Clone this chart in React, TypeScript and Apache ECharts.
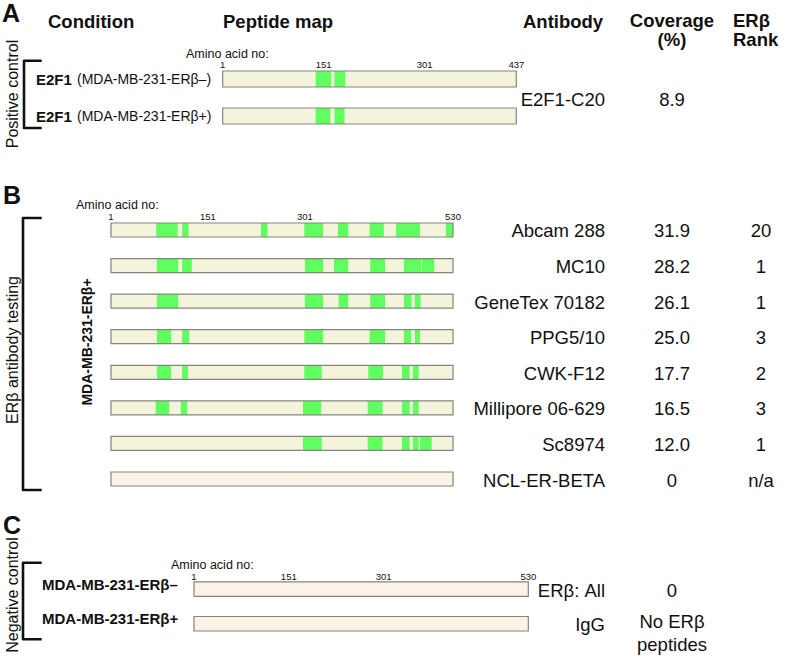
import React, { useEffect, useRef } from 'react';
import * as echarts from 'echarts';

const FONT = '"Liberation Sans", Arial, Helvetica, sans-serif';

// ---------- Panel A: positive control (E2F1, 437 aa) ----------
const lengthA = 437;
const ticksA = [1, 151, 301, 437];
const conditionsA = ['E2F1', 'E2F1'];
const cellLinesA = ['(MDA-MB-231-ERβ–)', '(MDA-MB-231-ERβ+)'];
const segmentsA: number[][][] = [
  [[139, 162], [167, 183]],
  [[139, 161], [167, 182]],
];
const antibodyA = 'E2F1-C20';
const coverageA = '8.9';

// ---------- Panel B: ERβ antibody testing (530 aa) ----------
const lengthB = 530;
const ticksB = [1, 151, 301, 530];
const conditionB = 'MDA-MB-231-ERβ+';
const antibodiesB = ['Abcam 288', 'MC10', 'GeneTex 70182', 'PPG5/10', 'CWK-F12', 'Millipore 06-629', 'Sc8974', 'NCL-ER-BETA'];
const coverageB = ['31.9', '28.2', '26.1', '25.0', '17.7', '16.5', '12.0', '0'];
const rankB = ['20', '1', '1', '3', '2', '3', '1', 'n/a'];
const segmentsB: number[][][] = [
  [[71, 104], [111, 121], [233, 243], [300, 329], [352, 368], [401, 423], [442, 479], [519, 530]],
  [[72, 105], [111, 126], [301, 329], [346, 368], [402, 425], [454, 481], [482, 501]],
  [[72, 105], [301, 329], [353, 368], [402, 425], [454, 466], [471, 480]],
  [[72, 94], [111, 122], [300, 329], [401, 425], [454, 465], [471, 479]],
  [[72, 94], [111, 120], [300, 327], [399, 422], [451, 463], [468, 477]],
  [[70, 91], [109, 119], [298, 326], [398, 421], [451, 463], [468, 477]],
  [[298, 327], [398, 421], [451, 463], [468, 477], [479, 497]],
  [],
];

// ---------- Panel C: negative control (530 aa) ----------
const lengthC = 530;
const ticksC = [1, 151, 301, 530];
const conditionsC = ['MDA-MB-231-ERβ–', 'MDA-MB-231-ERβ+'];
const antibodiesC = ['ERβ: All', 'IgG'];
const coverageC = ['0', 'No ERβ\npeptides'];
const segmentsC: number[][][] = [[], []];

// ---------- styles ----------
const BEIGE = '#f4f4dc';
const PEACH = '#fdf2e6';
const GREEN = '#5fff5f';
const OUTLINE = '#85857d';
const INK = '#111111';
const ROW_FS = 18.5;

function txt(text: string, x: number, y: number, opts: any = {}) {
  const align = opts.align || 'left';
  const vAlign = opts.verticalAlign || 'middle';
  return {
    type: 'text',
    x,
    y,
    rotation: opts.rotation || 0,
    silent: true,
    style: {
      text,
      fill: INK,
      fontFamily: FONT,
      fontSize: opts.fontSize || ROW_FS,
      fontWeight: opts.fontWeight || 'normal',
      align,
      verticalAlign: vAlign,
      textAlign: align,
      textVerticalAlign: vAlign,
      lineHeight: opts.lineHeight,
      rich: opts.rich,
    },
  };
}

function bracket(x: number, y0: number, y1: number, x1: number) {
  return {
    type: 'polyline',
    silent: true,
    shape: { points: [[x1, y0], [x, y0], [x, y1], [x1, y1]] },
    style: { stroke: INK, lineWidth: 2.6, fill: 'none', lineJoin: 'round' },
  };
}

function buildOption() {
  const panels = [
    { grid: { left: 222.7, top: 60.5, width: 293.6, height: 74 }, length: lengthA, ticks: ticksA, segs: segmentsA, rows: conditionsA, barH: 16, tickGap: 6.5 },
    { grid: { left: 111, top: 212.2, width: 342, height: 284.6 }, length: lengthB, ticks: ticksB, segs: segmentsB, rows: antibodiesB, barH: 14, tickGap: 6.5 },
    { grid: { left: 194, top: 571.7, width: 334.3, height: 69.4 }, length: lengthC, ticks: ticksC, segs: segmentsC, rows: conditionsC, barH: 14.5, tickGap: 5.8 },
  ];

  const labelRenderers = [
    // Panel A
    (row: number, y: number) => [
      txt(`{b|${conditionsA[row]}} {n|${cellLinesA[row]}}`, 36, y, {
        rich: {
          b: { fontWeight: 'bold', fontSize: 15, fontFamily: FONT, fill: INK },
          n: { fontSize: 14, fontFamily: FONT, fill: INK },
        },
      }),
    ],
    // Panel B
    (row: number, y: number) => [
      txt(antibodiesB[row], 605, y + 1, { align: 'right' }),
      txt(coverageB[row], 672, y + 1, { align: 'center' }),
      txt(rankB[row], 761, y + 1, { align: 'center' }),
    ],
    // Panel C
    (row: number, y: number) => {
      const cov = coverageC[row];
      const multi = cov.indexOf('\n') >= 0;
      return [
        txt(conditionsC[row], 42, y - 5, { fontWeight: 'bold', fontSize: 15 }),
        txt(antibodiesC[row], 605, y + 1, { align: 'right' }),
        txt(cov, 672, multi ? y + 9 : y + 1, { align: 'center', lineHeight: 23 }),
      ];
    },
  ];

  const grid: any[] = [];
  const xAxis: any[] = [];
  const yAxis: any[] = [];
  const series: any[] = [];

  panels.forEach((p, i) => {
    grid.push({ ...p.grid });
    xAxis.push({ gridIndex: i, type: 'value', min: 1, max: p.length, show: false });
    yAxis.push({ gridIndex: i, type: 'category', data: p.rows, inverse: true, show: false });
    const common = { type: 'custom', coordinateSystem: 'cartesian2d', xAxisIndex: i, yAxisIndex: i, silent: true, clip: false };
    const fullRows = p.rows.map((_: any, r: number) => [1, r, p.length]);

    const rectFor = (api: any, a: number, b: number, row: number) => {
      const p0 = api.coord([a, row]);
      const p1 = api.coord([b, row]);
      return { x: p0[0], y: p0[1] - p.barH / 2, width: p1[0] - p0[0], height: p.barH };
    };

    // background bars
    series.push({
      ...common,
      name: `bg${i}`,
      data: fullRows,
      encode: { x: [0, 2], y: 1 },
      renderItem: (_params: any, api: any) => {
        const row = api.value(1);
        return {
          type: 'rect',
          shape: rectFor(api, api.value(0), api.value(2), row),
          style: { fill: p.segs[row].length ? BEIGE : PEACH },
        };
      },
    });

    // peptide segments
    const segData: number[][] = [];
    p.segs.forEach((list: number[][], r: number) => list.forEach((s) => segData.push([s[0], r, s[1]])));
    series.push({
      ...common,
      name: `seg${i}`,
      data: segData,
      encode: { x: [0, 2], y: 1 },
      renderItem: (_params: any, api: any) => ({
        type: 'rect',
        shape: rectFor(api, api.value(0), api.value(2), api.value(1)),
        style: { fill: GREEN },
      }),
    });

    // outlines
    series.push({
      ...common,
      name: `outline${i}`,
      data: fullRows,
      encode: { x: [0, 2], y: 1 },
      renderItem: (_params: any, api: any) => ({
        type: 'rect',
        shape: rectFor(api, api.value(0), api.value(2), api.value(1)),
        style: { fill: 'none', stroke: OUTLINE, lineWidth: 1.2 },
      }),
    });

    // amino-acid tick labels
    series.push({
      ...common,
      name: `ticks${i}`,
      data: p.ticks.map((v: number) => [v, 0]),
      encode: { x: 0, y: 1 },
      renderItem: (_params: any, api: any) => {
        const pt = api.coord([api.value(0), 0]);
        return txt(String(api.value(0)), pt[0], pt[1] - p.barH / 2 - p.tickGap, { align: 'center', fontSize: 9.5 });
      },
    });

    // row texts
    series.push({
      ...common,
      name: `labels${i}`,
      data: p.rows.map((_: any, r: number) => [1, r]),
      encode: { x: 0, y: 1 },
      renderItem: (_params: any, api: any) => {
        const row = api.value(1);
        const y = api.coord([1, row])[1];
        return { type: 'group', children: labelRenderers[i](row, y) };
      },
    });
  });

  const H = 18.5;
  const graphic: any[] = [
    // panel letters
    txt('A', 2, 13, { fontWeight: 'bold', fontSize: 25 }),
    txt('B', 3, 195, { fontWeight: 'bold', fontSize: 25 }),
    txt('C', 3, 525, { fontWeight: 'bold', fontSize: 25 }),
    // headers
    txt('Condition', 48, 21, { fontWeight: 'bold', fontSize: H }),
    txt('Peptide map', 223, 21, { fontWeight: 'bold', fontSize: H }),
    txt('Antibody', 523, 21, { fontWeight: 'bold', fontSize: H }),
    txt('Coverage', 672, 20.5, { fontWeight: 'bold', fontSize: H, align: 'center' }),
    txt('(%)', 672, 39.5, { fontWeight: 'bold', fontSize: H, align: 'center' }),
    txt('ERβ', 733, 20.5, { fontWeight: 'bold', fontSize: H }),
    txt('Rank', 733, 39.5, { fontWeight: 'bold', fontSize: H }),
    // amino acid captions
    txt('Amino acid no:', 186, 53.5, { fontSize: 12.5 }),
    txt('Amino acid no:', 76, 204.5, { fontSize: 12.5 }),
    txt('Amino acid no:', 171, 564.5, { fontSize: 12.5 }),
    // panel A antibody / coverage
    txt(antibodyA, 605, 99, { align: 'right' }),
    txt(coverageA, 672, 99, { align: 'center' }),
    // rotated group labels
    txt('Positive control', 12, 94, { fontSize: 16, align: 'center', rotation: Math.PI / 2 }),
    txt('ERβ antibody testing', 12, 350, { fontSize: 16, align: 'center', rotation: Math.PI / 2 }),
    txt('Negative control', 12, 595, { fontSize: 16, align: 'center', rotation: Math.PI / 2 }),
    txt(conditionB, 87, 342, { fontSize: 14, fontWeight: 'bold', align: 'center', rotation: Math.PI / 2 }),
    // brackets
    bracket(24, 60.7, 128, 41.7),
    bracket(23, 218, 490, 41.7),
    bracket(23, 562.7, 639.3, 41.7),
  ];

  return {
    animation: false,
    backgroundColor: '#ffffff',
    textStyle: { fontFamily: FONT },
    grid,
    xAxis,
    yAxis,
    series,
    graphic,
  };
}

export default function App() {
  const ref = useRef<HTMLDivElement>(null);
  useEffect(() => {
    document.body.style.margin = '0';
    const chart = echarts.init(ref.current as HTMLDivElement, undefined, { renderer: 'svg' });
    chart.setOption(buildOption() as any);
    return () => chart.dispose();
  }, []);
  return <div ref={ref} style={{ width: 787, height: 664 }} />;
}
